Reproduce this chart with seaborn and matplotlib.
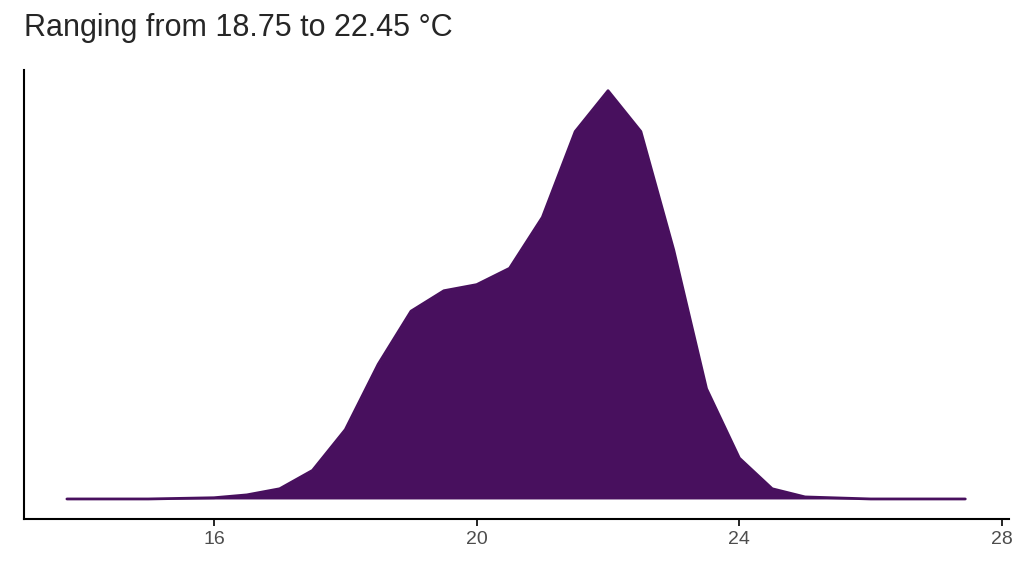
import matplotlib
matplotlib.use("Agg")
import matplotlib.pyplot as plt
import seaborn as sns
import numpy as np

temps = [13.76, 15.0, 16.0, 16.5, 17.0, 17.5, 18.0, 18.5, 19.0, 19.5, 20.0, 20.5,
         21.0, 21.5, 22.0, 22.5, 23.0, 23.5, 24.0, 24.5, 25.0, 26.0, 27.44]
density = [0.0, 0.0, 0.003, 0.01, 0.025, 0.07, 0.17, 0.33, 0.46, 0.51, 0.525, 0.565,
           0.69, 0.90, 1.0, 0.90, 0.61, 0.27, 0.10, 0.025, 0.005, 0.0, 0.0]
xticks = [16, 20, 24, 28]
title = "Ranging from 18.75 to 22.45 °C"
color = "#48105E"

sns.set_theme(style="ticks")
plt.rcParams['font.family'] = ['Liberation Sans', 'DejaVu Sans']
fig, ax = plt.subplots(figsize=(10.24, 5.76), dpi=100)
fig.subplots_adjust(left=0.023, right=0.985, top=0.878, bottom=0.099)

sns.lineplot(x=temps, y=density, ax=ax, color=color, linewidth=2)
ax.fill_between(temps, density, color=color, linewidth=0)

ax.set_xlim(13.1, 28.1)
ax.set_ylim(-0.049, 1.05)
ax.set_xticks(xticks)
ax.set_xticklabels([str(t) for t in xticks], color="#4d4d4d", fontsize=14)
ax.set_yticks([])
ax.tick_params(axis='x', length=5, width=1.2, colors="black", labelcolor="#4d4d4d")
for s in ["top", "right"]:
    ax.spines[s].set_visible(False)
for s in ["left", "bottom"]:
    ax.spines[s].set_linewidth(1.5)
    ax.spines[s].set_color("black")
ax.set_xlabel("")
ax.set_ylabel("")
fig.text(0.023, 0.925, title, fontsize=22, ha="left", va="bottom")
fig.savefig("out.png", dpi=100)
